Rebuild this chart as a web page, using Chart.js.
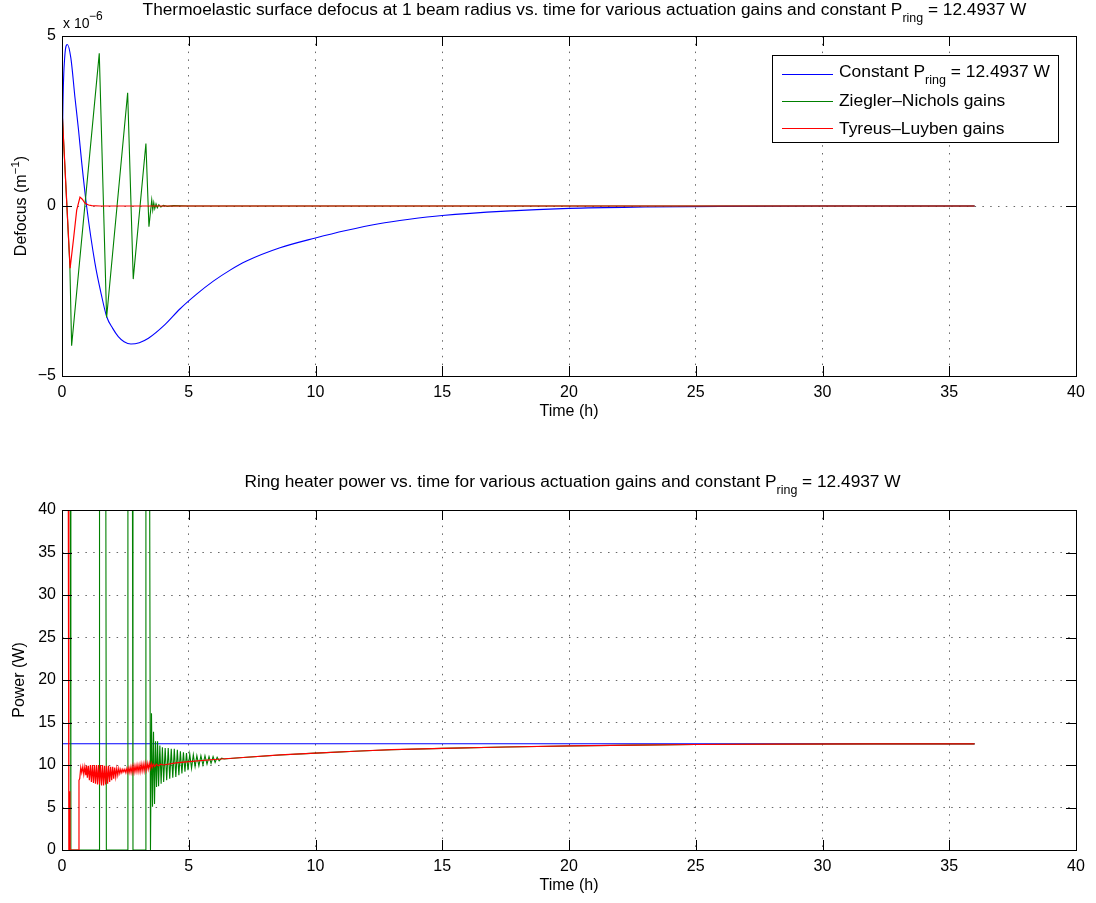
<!DOCTYPE html>
<html>
<head>
<meta charset="utf-8">
<title>Thermoelastic defocus and ring heater power</title>
<script src="https://cdn.jsdelivr.net/npm/chart.js@4/dist/chart.umd.min.js"></script>
<style>
  html, body { margin: 0; padding: 0; background: #fff; }
  #wrap { position: relative; width: 1096px; height: 903px; }
  canvas { position: absolute; left: 0; }
  #defocusChart { top: 0; }
  #powerChart { top: 451px; }
</style>
</head>
<body>
<div id="wrap">
  <canvas id="defocusChart" width="1096" height="451"></canvas>
  <canvas id="powerChart" width="1096" height="452"></canvas>
</div>
<script>
const FONT = '"Liberation Sans", Arial, Helvetica, sans-serif';
const P_RING = 12.4937;

// defocus at 1 beam radius, [time (h), defocus (x1e-6 1/m)]
const defocusConstant = [
  [0, 0], [0.03, 2.6], [0.1, 4.3], [0.21, 4.75], [0.35, 4.35], [0.51, 3.2], [0.65, 2.25],
  [0.78, 1.26], [0.97, 0], [1.3, -1.68], [1.55, -2.6], [1.76, -3.25], [2.0, -3.6],
  [2.22, -3.84], [2.45, -3.99], [2.72, -4.06], [3.05, -4.02], [3.41, -3.89], [4.06, -3.49],
  [4.65, -3.03], [5.3, -2.6], [5.97, -2.21], [6.6, -1.9], [7.28, -1.62], [8.6, -1.23],
  [10, -0.94], [11.2, -0.72], [12.5, -0.52], [13.7, -0.39], [15, -0.28], [17.5, -0.15],
  [20, -0.07], [23, -0.03], [26, -0.01], [30, 0], [36, 0]
];
const defocusZN = [
  [0, 0], [0.01, 2.7], [0.31, -1.75], [0.38, -4.11], [1.47, 4.49], [1.76, -3.28],
  [2.59, 3.33], [2.81, -2.15], [3.31, 1.84], [3.43, -0.61], [3.54, 0.18], [3.58, -0.12],
  [3.62, 0.1], [3.66, -0.08], [3.71, 0.06], [3.76, -0.05], [3.82, 0.04], [3.9, -0.03],
  [4.0, 0.02], [4.15, -0.01], [4.4, 0.01], [5.0, 0], [36, 0]
];
const defocusTL = [
  [0, 0], [0.01, 2.7], [0.32, -1.83], [0.45, -1.0], [0.58, -0.12], [0.71, 0.26],
  [0.8, 0.2], [0.91, 0.08], [1.05, 0.03], [1.17, 0.01], [1.5, 0], [36, 0]
];

// ring heater power, [time (h), power (W)]
const powerConstant = [[0, P_RING], [36, P_RING]];
const powerZN = [
  [0, 0], [0.005, 40], [0.33, 40], [0.35, 0], [1.46, 0], [1.48, 40], [1.73, 40], [1.75, 0],
  [2.58, 0], [2.6, 40], [2.78, 40], [2.8, 0], [3.29, 0], [3.31, 40], [3.46, 40], [3.49, 0],
  [3.53, 16.1], [3.57, 5.1], [3.61, 13.9], [3.65, 5.4], [3.69, 12.8], [3.73, 7.4],
  [3.77, 12.8], [3.81, 7.5], [3.86, 12.3], [3.91, 7.8], [3.96, 12.1], [4.01, 8.0],
  [4.07, 12.0], [4.13, 8.2], [4.19, 12.0], [4.25, 8.4], [4.31, 11.9], [4.37, 8.5],
  [4.43, 11.9], [4.49, 8.6], [4.55, 11.8], [4.61, 8.8], [4.67, 11.6], [4.73, 9.0],
  [4.79, 11.5], [4.85, 9.2], [4.91, 11.4], [4.97, 9.4], [5.04, 11.3], [5.11, 9.6],
  [5.18, 11.2], [5.25, 9.8], [5.32, 11.1], [5.4, 9.9], [5.48, 11.1], [5.56, 10.0],
  [5.64, 11.1], [5.72, 10.1], [5.8, 11.0], [5.88, 10.2], [5.96, 11.0], [6.04, 10.3],
  [6.12, 10.9], [6.2, 10.5], [6.3, 10.8], [6.4, 10.7], [7, 10.85], [8.6, 11.18],
  [10, 11.4], [11.76, 11.65], [13, 11.8], [15, 11.96], [17.5, 12.12], [20, 12.24],
  [22.5, 12.34], [25, 12.41], [28, 12.45], [32, 12.48], [36, 12.49]
];
const powerTL = [
  [0, 0], [0.005, 40], [0.25, 40], [0.27, 0], [0.3, 0], [0.31, 6.9], [0.32, 0], [0.64, 0],
  [0.67, 8.2], [0.7, 8.4], [0.74, 9.7], [0.78, 9.1], [0.82, 9.8], [0.86, 8.9], [0.9, 9.8],
  [0.94, 8.8], [0.97, 9.9], [1.0, 8.5], [1.04, 9.9], [1.08, 8.2], [1.12, 10.0], [1.16, 8.0],
  [1.2, 10.0], [1.24, 7.9], [1.28, 10.0], [1.32, 7.8], [1.36, 10.0], [1.4, 7.7], [1.44, 10.0],
  [1.48, 7.7], [1.52, 10.0], [1.56, 7.6], [1.6, 10.0], [1.64, 7.6], [1.68, 9.9], [1.72, 7.7],
  [1.76, 9.9], [1.8, 7.8], [1.84, 9.9], [1.88, 8.0], [1.92, 9.8], [1.96, 8.2], [2.0, 9.8],
  [2.04, 8.4], [2.08, 9.7], [2.12, 8.6], [2.16, 9.6], [2.2, 8.8], [2.24, 9.6], [2.28, 9.0],
  [2.32, 9.5], [2.36, 9.1], [2.4, 9.5], [2.44, 9.2], [2.48, 9.5], [2.52, 9.1], [2.56, 9.6],
  [2.6, 9.1], [2.64, 9.7], [2.68, 9.1], [2.72, 9.8], [2.76, 9.1], [2.8, 9.9], [2.84, 9.1],
  [2.88, 9.9], [2.92, 9.2], [2.96, 10.0], [3.0, 9.2], [3.04, 10.0], [3.08, 9.2], [3.12, 10.1],
  [3.16, 9.3], [3.2, 10.1], [3.24, 9.3], [3.28, 10.2], [3.32, 9.4], [3.36, 10.2], [3.4, 9.5],
  [3.44, 10.2], [3.48, 9.6], [3.52, 10.2], [3.56, 9.7], [3.6, 10.1], [3.66, 9.8], [3.72, 10.1],
  [3.8, 9.9], [3.9, 10.1], [4.0, 10.0], [4.5, 10.25], [5, 10.4], [6, 10.65], [7, 10.85],
  [8.6, 11.18], [10, 11.4], [11.76, 11.65], [13, 11.8], [15, 11.96], [17.5, 12.12],
  [20, 12.24], [22.5, 12.34], [25, 12.41], [28, 12.45], [32, 12.48], [36, 12.49]
];

const seriesColors = ['#0000ff', '#008000', '#ff0000'];
const legendEntries = [
  [{ t: 'Constant P' }, { t: 'ring', s: 'sub' }, { t: ' = ' + P_RING + ' W' }],
  [{ t: 'Ziegler\u2013Nichols gains' }],
  [{ t: 'Tyreus\u2013Luyben gains' }]
];

// text with sub/superscript pieces, left aligned at (x, y) baseline
function richWidth(ctx, parts, size) {
  let w = 0;
  parts.forEach(p => {
    ctx.font = (p.s ? size * 0.72 : size) + 'px ' + FONT;
    w += ctx.measureText(p.t).width;
  });
  return w;
}
function drawRich(ctx, parts, x, y, size) {
  parts.forEach(p => {
    ctx.font = (p.s ? size * 0.72 : size) + 'px ' + FONT;
    let dy = 0;
    if (p.s === 'sub') dy = size * 0.42;
    if (p.s === 'sup') dy = -size * 0.45;
    ctx.fillText(p.t, x, y + dy);
    x += ctx.measureText(p.t).width;
  });
}

// box around the axes plus inward tick marks on every side
const framePlugin = {
  id: 'frame',
  afterDatasetsDraw(chart) {
    const { ctx, chartArea: a, scales: { x, y } } = chart;
    ctx.save();
    ctx.strokeStyle = '#000';
    ctx.lineWidth = 1;
    ctx.beginPath();
    x.ticks.forEach(t => {
      const px = Math.round(x.getPixelForValue(t.value)) + 0.5;
      ctx.moveTo(px, a.bottom); ctx.lineTo(px, a.bottom - 10);
      ctx.moveTo(px, a.top); ctx.lineTo(px, a.top + 10);
    });
    y.ticks.forEach(t => {
      const py = Math.round(y.getPixelForValue(t.value)) + 0.5;
      ctx.moveTo(a.left, py); ctx.lineTo(a.left + 10, py);
      ctx.moveTo(a.right, py); ctx.lineTo(a.right - 10, py);
    });
    ctx.stroke();
    ctx.strokeRect(a.left + 0.5, a.top + 0.5, a.right - a.left, a.bottom - a.top);
    ctx.restore();
  }
};

const whiteBackground = {
  id: 'whiteBackground',
  beforeDraw(chart) {
    const { ctx } = chart;
    ctx.save();
    ctx.fillStyle = '#fff';
    ctx.fillRect(0, 0, chart.width, chart.height);
    ctx.restore();
  }
};

function makeDatasets(sets, smoothFirst) {
  return sets.map((pts, i) => ({
    data: pts.map(([x, y]) => ({ x, y })),
    borderColor: seriesColors[i],
    borderWidth: i === 2 ? 1.2 : 1.1,
    pointRadius: 0,
    cubicInterpolationMode: smoothFirst && i === 0 ? 'monotone' : 'default',
    tension: smoothFirst && i === 0 ? 0.4 : 0,
    order: 2 - i
  }));
}

function baseOptions(yMin, yMax, padTop, padBottom, yTitle) {
  const tickFont = { family: FONT, size: 16 };
  return {
    responsive: false,
    animation: false,
    events: [],
    layout: { padding: { left: 0, right: 20, top: padTop, bottom: padBottom } },
    plugins: { legend: { display: false }, tooltip: { enabled: false } },
    scales: {
      x: {
        type: 'linear', min: 0, max: 40,
        ticks: { stepSize: 5, padding: 7, color: '#000', font: tickFont, maxRotation: 0 },
        grid: { color: 'rgba(0,0,0,0.6)', drawTicks: false },
        border: { display: false, dash: [1.5, 6.3] },
        title: { display: true, text: 'Time (h)', color: '#000', font: tickFont, padding: { top: 0, bottom: 0 } },
        afterFit: s => { s.height = 45; }
      },
      y: {
        type: 'linear', min: yMin, max: yMax,
        ticks: {
          stepSize: 5, padding: 6, color: '#000', font: tickFont,
          callback: v => (v < 0 ? '\u2212' + Math.abs(v) : String(v))
        },
        grid: { color: 'rgba(0,0,0,0.6)', drawTicks: false },
        border: { display: false, dash: [1.5, 6.3] },
        title: { display: !!yTitle, text: yTitle || '', color: '#000', font: tickFont, padding: { top: 10, bottom: 0 } },
        afterFit: s => { s.width = 62; }
      }
    }
  };
}

// upper axes: defocus
new Chart(document.getElementById('defocusChart'), {
  type: 'line',
  data: { datasets: makeDatasets([defocusConstant, defocusZN, defocusTL], true) },
  options: baseOptions(-5, 5, 36, 30, null),
  plugins: [whiteBackground, framePlugin, {
    id: 'defocusText',
    afterDraw(chart) {
      const { ctx, chartArea: a } = chart;
      ctx.save();
      ctx.fillStyle = '#000';
      ctx.textBaseline = 'alphabetic';
      ctx.textAlign = 'left';

      const title = [
        { t: 'Thermoelastic surface defocus at 1 beam radius vs. time for various actuation gains and constant P' },
        { t: 'ring', s: 'sub' }, { t: ' = ' + P_RING + ' W' }
      ];
      const tw = richWidth(ctx, title, 17.3);
      drawRich(ctx, title, 584.5 - tw / 2, 15, 17.3);

      // axis multiplier
      ctx.font = '14px ' + FONT;
      ctx.fillText('x 10', 63, 28);
      ctx.font = '12px ' + FONT;
      ctx.fillText('\u22126', 89, 20);

      // y-axis label
      const ylab = [{ t: 'Defocus (m' }, { t: '\u22121', s: 'sup' }, { t: ')' }];
      const yw = richWidth(ctx, ylab, 16);
      ctx.translate(26, (a.top + a.bottom) / 2);
      ctx.rotate(-Math.PI / 2);
      drawRich(ctx, ylab, -yw / 2, 0, 16);
      ctx.setTransform(1, 0, 0, 1, 0, 0);

      // legend
      const bx = 772, by = 55, bw = 286, bh = 87;
      ctx.fillStyle = '#fff';
      ctx.fillRect(bx, by, bw, bh);
      ctx.strokeStyle = '#000';
      ctx.lineWidth = 1;
      ctx.strokeRect(bx + 0.5, by + 0.5, bw, bh);
      const lineY = [74.5, 101.5, 128.5];
      const textY = [77, 106, 134];
      legendEntries.forEach((parts, i) => {
        ctx.strokeStyle = seriesColors[i];
        ctx.lineWidth = 1.1;
        ctx.beginPath();
        ctx.moveTo(782, lineY[i]);
        ctx.lineTo(833, lineY[i]);
        ctx.stroke();
        ctx.fillStyle = '#000';
        drawRich(ctx, parts, 839, textY[i], 17.4);
      });
      ctx.restore();
    }
  }]
});

// lower axes: ring heater power
new Chart(document.getElementById('powerChart'), {
  type: 'line',
  data: { datasets: makeDatasets([powerConstant, powerZN, powerTL], false) },
  options: baseOptions(0, 40, 59, 8, 'Power (W)'),
  plugins: [whiteBackground, framePlugin, {
    id: 'powerText',
    afterDraw(chart) {
      const { ctx } = chart;
      ctx.save();
      ctx.fillStyle = '#000';
      ctx.textAlign = 'left';
      ctx.textBaseline = 'alphabetic';
      const title = [
        { t: 'Ring heater power vs. time for various actuation gains and constant P' },
        { t: 'ring', s: 'sub' }, { t: ' = ' + P_RING + ' W' }
      ];
      const tw = richWidth(ctx, title, 17.3);
      drawRich(ctx, title, 572.5 - tw / 2, 36, 17.3);
      ctx.restore();
    }
  }]
});
</script>
</body>
</html>
